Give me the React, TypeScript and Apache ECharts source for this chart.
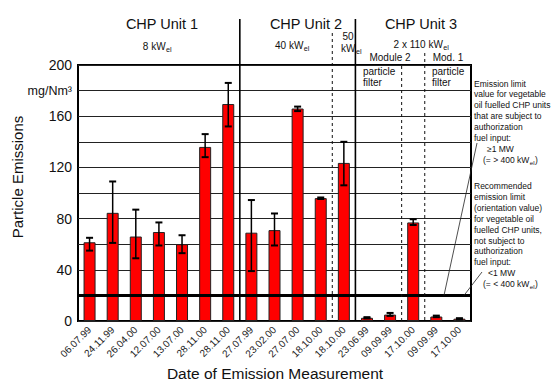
import React, { useEffect, useRef } from "react";
import * as echarts from "echarts";

// ---- data ----
const categories = [
  "06.07.99", "24.11.99", "26.04.00", "12.07.00", "13.07.00", "28.11.00", "28.11.00",
  "27.07.99", "23.02.00", "27.07.00", "18.10.00",
  "18.10.00",
  "23.06.99", "09.09.99", "17.10.00",
  "09.09.99", "17.10.00",
];
const values = [61.5, 84.5, 66, 69.5, 60, 136, 169.5, 69, 71, 166, 96, 123.5, 2.5, 5, 77, 3.5, 1.8];
const errLow = [55, 61, 49, 59, 53, 128, 152, 39, 59, 164, 95.3, 106, 2, 4, 75, 3, 1.3];
const errHigh = [65, 109, 87, 77, 67, 146, 186, 94.5, 84, 167.5, 96.5, 140, 3, 6.3, 79.5, 4.2, 2.2];
const limitValue = 20;
const yLabelValues = [0, 40, 80, 120, 160, 200];
const unitLabelValue = 180;
const unitLabel = "mg/Nm³";
const solidAfter = [6, 11];
const dashedAfter = [10, 13, 14];

const annotationHigh = [
  "Emission limit",
  "value for vegetable",
  "oil fuelled CHP units",
  "that are subject to",
  "authorization",
  "fuel input:",
];
const annotationLow = [
  "Recommended",
  "emission limit",
  "(orientation value)",
  "for vegetable oil",
  "fuelled CHP units,",
  "not subject to",
  "authorization",
  "fuel input:",
];

const FONT = '"Liberation Sans", Arial, sans-serif';

let measureCtx: CanvasRenderingContext2D | null = null;
function measure(t: string, size: number): number {
  if (!measureCtx) measureCtx = document.createElement("canvas").getContext("2d");
  if (!measureCtx) return t.length * size * 0.55;
  measureCtx.font = `${size}px "Liberation Sans", Arial, sans-serif`;
  return measureCtx.measureText(t).width;
}

function txt(x: number, y: number, text: string, size: number, align = "center", extra: any = {}) {
  return {
    type: "text",
    x,
    y,
    silent: true,
    style: {
      text,
      fontSize: size,
      fontFamily: FONT,
      fill: "#111",
      align,
      verticalAlign: "middle",
      ...extra,
    },
  };
}

function subText(x: number, y: number, main: string, sub: string, tail: string, size: number, align: "center" | "left") {
  const subSize = size * 0.72;
  const w1 = measure(main, size);
  const w2 = measure(sub, subSize);
  const w3 = tail ? measure(tail, size) : 0;
  const total = w1 + w2 + w3;
  const start = align === "center" ? x - total / 2 : x;
  const els: any[] = [
    txt(start, y, main, size, "left"),
    txt(start + w1 + 0.5, y + size * 0.32, sub, subSize, "left"),
  ];
  if (tail) els.push(txt(start + w1 + w2 + 1, y, tail, size, "left"));
  return els;
}

export default function App() {
  const ref = useRef<HTMLDivElement>(null);

  useEffect(() => {
    if (!ref.current) return;
    const chart = echarts.init(ref.current, null, { renderer: "svg" });
    const errData = categories.map((_, i) => [i, errLow[i], errHigh[i]]);

    chart.setOption({
      animation: false,
      textStyle: { fontFamily: FONT },
      grid: {
        left: 78,
        right: 81,
        top: 65,
        bottom: 61,
        show: true,
        borderColor: "#000",
        borderWidth: 2,
        backgroundColor: "transparent",
      },
      xAxis: {
        type: "category",
        data: categories,
        axisLine: { show: false },
        axisTick: { show: false },
        axisLabel: {
          interval: 0,
          rotate: 45,
          fontSize: 10,
          color: "#222",
          margin: 7,
          fontFamily: FONT,
        },
      },
      yAxis: {
        type: "value",
        min: 0,
        max: 200,
        interval: 20,
        axisLine: { show: false },
        axisTick: { show: false },
        splitLine: { show: true, lineStyle: { color: "#222", width: 1 } },
        axisLabel: {
          margin: 6,
          fontSize: 14,
          color: "#111",
          fontFamily: FONT,
          formatter: (v: number) =>
            v === unitLabelValue ? `{u|${unitLabel}}` : yLabelValues.includes(v) ? String(v) : "",
          rich: { u: { fontSize: 12.5, color: "#111", fontFamily: FONT } },
        },
      },
      series: [
        {
          type: "bar",
          data: values,
          barWidth: 12,
          itemStyle: { color: "#ff0000", borderColor: "#222", borderWidth: 1 },
          markLine: {
            silent: true,
            symbol: "none",
            label: { show: false },
            lineStyle: { color: "#000", width: 3, type: "solid" },
            data: [{ yAxis: limitValue }],
            z: 10,
          },
        },
        {
          type: "custom",
          data: errData,
          encode: { x: 0, y: [1, 2] },
          z: 5,
          renderItem: (params: any, api: any) => {
            const x = api.value(0);
            const lo = api.coord([x, api.value(1)]);
            const hi = api.coord([x, api.value(2)]);
            const w = 3.5;
            return {
              type: "group",
              children: [
                { type: "line", shape: { x1: hi[0], y1: hi[1], x2: lo[0], y2: lo[1] }, style: { stroke: "#000", lineWidth: 1.5 } },
                { type: "line", shape: { x1: hi[0] - w, y1: hi[1], x2: hi[0] + w, y2: hi[1] }, style: { stroke: "#000", lineWidth: 2 } },
                { type: "line", shape: { x1: lo[0] - w, y1: lo[1], x2: lo[0] + w, y2: lo[1] }, style: { stroke: "#000", lineWidth: 2 } },
              ],
            };
          },
        },
      ],
    });

    const px = (i: number) => chart.convertToPixel({ xAxisIndex: 0 }, i) as number;
    const py = (v: number) => chart.convertToPixel({ yAxisIndex: 0 }, v) as number;
    const boundary = (i: number) => (px(i) + px(i + 1)) / 2;
    const yBottom = py(0);
    const yLimit = py(limitValue);

    const solidTops = [19, 19];
    const dashedTops = [33, 66, 53];

    const graphics: any[] = [];
    solidAfter.forEach((a, k) => {
      const x = boundary(a);
      graphics.push({
        type: "line",
        silent: true,
        shape: { x1: x, y1: solidTops[k], x2: x, y2: yBottom },
        style: { stroke: "#000", lineWidth: 1.6 },
        z: 20,
      });
    });
    dashedAfter.forEach((a, k) => {
      const x = boundary(a);
      graphics.push({
        type: "line",
        silent: true,
        shape: { x1: x, y1: dashedTops[k], x2: x, y2: yBottom },
        style: { stroke: "#111", lineWidth: 1, lineDash: [3, 3] },
        z: 20,
      });
    });

    // headers
    graphics.push(txt(162, 24, "CHP Unit 1", 14.5));
    graphics.push(txt(306, 24, "CHP Unit 2", 14.5));
    graphics.push(txt(421, 24, "CHP Unit 3", 14.5));
    graphics.push(...subText(157, 46, "8 kW", "el", "", 10, "center"));
    graphics.push(...subText(292, 45, "40 kW", "el", "", 10, "center"));
    graphics.push(txt(348, 36.5, "50", 10));
    graphics.push(...subText(341, 48, "kW", "el", "", 10, "left"));
    graphics.push(...subText(421, 44, "2 x 110 kW", "el", "", 10, "center"));
    graphics.push(txt(390, 57, "Module 2", 10));
    graphics.push(txt(448, 57, "Mod. 1", 10));
    graphics.push(txt(363, 66, "particle\nfilter", 10, "left", { verticalAlign: "top", lineHeight: 11 }));
    graphics.push(txt(432, 66, "particle\nfilter", 10, "left", { verticalAlign: "top", lineHeight: 11 }));

    // annotations
    const lh = 10.9;
    annotationHigh.forEach((t, i) => graphics.push(txt(474, 83.5 + i * lh, t, 8.5, "left")));
    graphics.push(txt(487, 83.5 + 6 * lh, "≥1 MW", 8.5, "left"));
    graphics.push(...subText(483, 83.5 + 7 * lh, "(= > 400 kW", "el", ")", 8.5, "left"));
    annotationLow.forEach((t, i) => graphics.push(txt(474, 186 + i * lh, t, 8.5, "left")));
    graphics.push(txt(488, 186 + 8 * lh, "<1 MW", 8.5, "left"));
    graphics.push(...subText(483, 186 + 9 * lh, "(= < 400 kW", "el", ")", 8.5, "left"));

    graphics.push({
      type: "line",
      silent: true,
      shape: { x1: 477, y1: 143, x2: 444, y2: yLimit },
      style: { stroke: "#222", lineWidth: 0.8 },
      z: 20,
    });
    graphics.push({
      type: "line",
      silent: true,
      shape: { x1: 482, y1: 272, x2: 464, y2: yLimit },
      style: { stroke: "#222", lineWidth: 0.8 },
      z: 20,
    });

    // axis titles
    graphics.push(txt(17, 177, "Particle Emissions", 15, "center", { fill: "#111" }));
    graphics[graphics.length - 1].rotation = Math.PI / 2;
    graphics.push(txt(275, 373, "Date of Emission Measurement", 15.5));

    chart.setOption({ graphic: graphics });

    return () => chart.dispose();
  }, []);

  return (
    <div
      ref={ref}
      style={{ position: "absolute", left: 0, top: 0, width: 552, height: 382 }}
    />
  );
}
